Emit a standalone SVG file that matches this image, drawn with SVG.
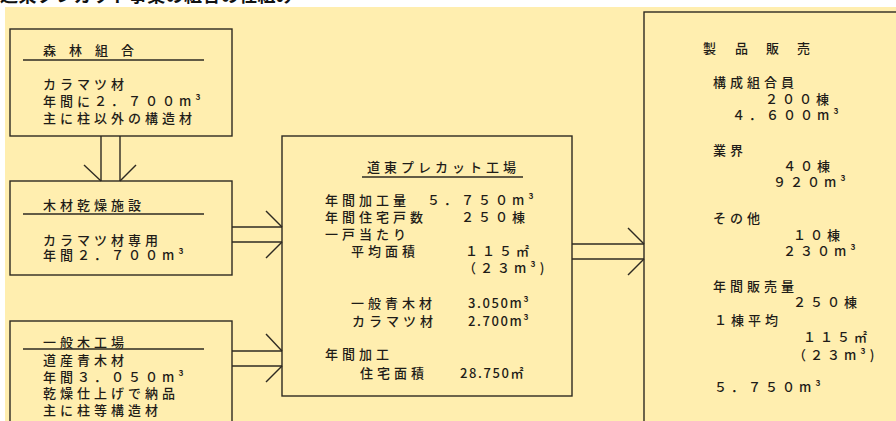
<svg xmlns="http://www.w3.org/2000/svg" width="896" height="421" viewBox="0 0 896 421">
<style>
.box{fill:none;stroke:#2e2a22;stroke-width:1.4}
.ln{stroke:#2e2a22;stroke-width:1.4;fill:none}
.t{font-family:"Noto Sans CJK JP","Noto Sans CJK SC",sans-serif;font-size:13px;font-weight:500;fill:#1e1c18;letter-spacing:4px}
.h{font-family:"Noto Sans CJK JP","Noto Sans CJK SC",sans-serif;font-size:13px;font-weight:500;fill:#1e1c18;letter-spacing:1.6px}
.title{font-family:"Noto Sans CJK JP","Noto Sans CJK SC",sans-serif;font-size:18px;font-weight:bold;fill:#111;letter-spacing:0.4px}
</style>
<rect x="0" y="0" width="896" height="421" fill="#ffffff"/>
<rect x="5" y="7" width="891" height="414" fill="#ffeeaf"/>
<text class="title" x="0" y="2">道東プレカット事業の組合の仕組み</text>

<g id="connectors">
  <line class="ln" x1="101" y1="136" x2="101" y2="181"/>
  <line class="ln" x1="120" y1="136" x2="120" y2="181"/>
  <line class="ln" x1="84" y1="165" x2="101" y2="181"/>
  <line class="ln" x1="136" y1="165" x2="120" y2="181"/>

  <line class="ln" x1="232" y1="227" x2="282" y2="227"/>
  <line class="ln" x1="232" y1="242" x2="282" y2="242"/>
  <line class="ln" x1="266" y1="211" x2="282" y2="227"/>
  <line class="ln" x1="266" y1="258" x2="282" y2="242"/>

  <line class="ln" x1="232" y1="351" x2="282" y2="351"/>
  <line class="ln" x1="232" y1="366" x2="282" y2="366"/>
  <line class="ln" x1="266" y1="334" x2="282" y2="351"/>
  <line class="ln" x1="266" y1="382" x2="282" y2="366"/>

  <line class="ln" x1="572" y1="244" x2="644" y2="244"/>
  <line class="ln" x1="572" y1="259" x2="644" y2="259"/>
  <line class="ln" x1="628" y1="228" x2="644" y2="244"/>
  <line class="ln" x1="628" y1="275" x2="644" y2="259"/>
</g>

<g id="shinrin-kumiai">
  <rect class="box" x="10" y="29" width="222" height="107"/>
  <text class="t" y="55"><tspan x="43">森</tspan><tspan x="69">林</tspan><tspan x="95">組</tspan><tspan x="121">合</tspan></text>
  <line class="ln" x1="23" y1="60" x2="204" y2="60"/>
  <text class="t" x="43" y="89">カラマツ材</text>
  <text class="t" x="43" y="106">年間に２．７００m³</text>
  <text class="t" x="43" y="123">主に柱以外の構造材</text>
</g>

<g id="kanso-shisetsu">
  <rect class="box" x="10" y="181" width="222" height="94"/>
  <text class="t" x="43" y="210">木材乾燥施設</text>
  <line class="ln" x1="23" y1="214" x2="204" y2="214"/>
  <text class="t" x="43" y="245">カラマツ材専用</text>
  <text class="t" x="43" y="260">年間２．７００m³</text>
</g>

<g id="ippan-mokkojo">
  <rect class="box" x="10" y="321" width="222" height="130"/>
  <text class="t" x="43" y="347">一般木工場</text>
  <line class="ln" x1="23" y1="349" x2="204" y2="349"/>
  <text class="t" x="43" y="365">道産青木材</text>
  <text class="t" x="43" y="382">年間３．０５０m³</text>
  <text class="t" x="43" y="398">乾燥仕上げで納品</text>
  <text class="t" x="43" y="415">主に柱等構造材</text>
</g>

<g id="precut-kojo">
  <rect class="box" x="282" y="136" width="290" height="260"/>
  <text class="t" x="367" y="172">道東プレカット工場</text>
  <line class="ln" x1="362" y1="177" x2="523" y2="177"/>
  <text class="t" x="325" y="205">年間加工量　５．７５０m³</text>
  <text class="t" x="325" y="222">年間住宅戸数　　２５０棟</text>
  <text class="t" x="325" y="239">一戸当たり</text>
  <text class="t" x="351" y="256">平均面積</text>
  <text class="t" x="465" y="256">１１５㎡</text>
  <text class="t" x="463" y="273">（２３m³)</text>
  <text class="t" x="351" y="308">一般青木材</text>
  <text class="h" x="468" y="308">3.050m³</text>
  <text class="t" x="352" y="326">カラマツ材</text>
  <text class="h" x="468" y="326">2.700m³</text>
  <text class="t" x="325" y="359">年間加工</text>
  <text class="t" x="360" y="378">住宅面積</text>
  <text class="h" x="460" y="378">28.750㎡</text>
</g>

<g id="seihin-hanbai">
  <rect class="box" x="644" y="12" width="270" height="430"/>
  <text class="t" y="53"><tspan x="703">製</tspan><tspan x="735">品</tspan><tspan x="766">販</tspan><tspan x="797">売</tspan></text>
  <text class="t" x="713" y="87">構成組合員</text>
  <text class="t" x="765" y="104">２００棟</text>
  <text class="t" x="732" y="120">４．６００m³</text>
  <text class="t" x="713" y="155">業界</text>
  <text class="t" x="783" y="171">４０棟</text>
  <text class="t" x="773" y="187">９２０m³</text>
  <text class="t" x="713" y="223">その他</text>
  <text class="t" x="793" y="240">１０棟</text>
  <text class="t" x="783" y="256">２３０m³</text>
  <text class="t" x="713" y="291">年間販売量</text>
  <text class="t" x="793" y="307">２５０棟</text>
  <text class="t" x="714" y="325">１棟平均</text>
  <text class="t" x="803" y="342">１１５㎡</text>
  <text class="t" x="793" y="360">（２３m³)</text>
  <text class="t" x="714" y="392">５．７５０m³</text>
</g>
</svg>
